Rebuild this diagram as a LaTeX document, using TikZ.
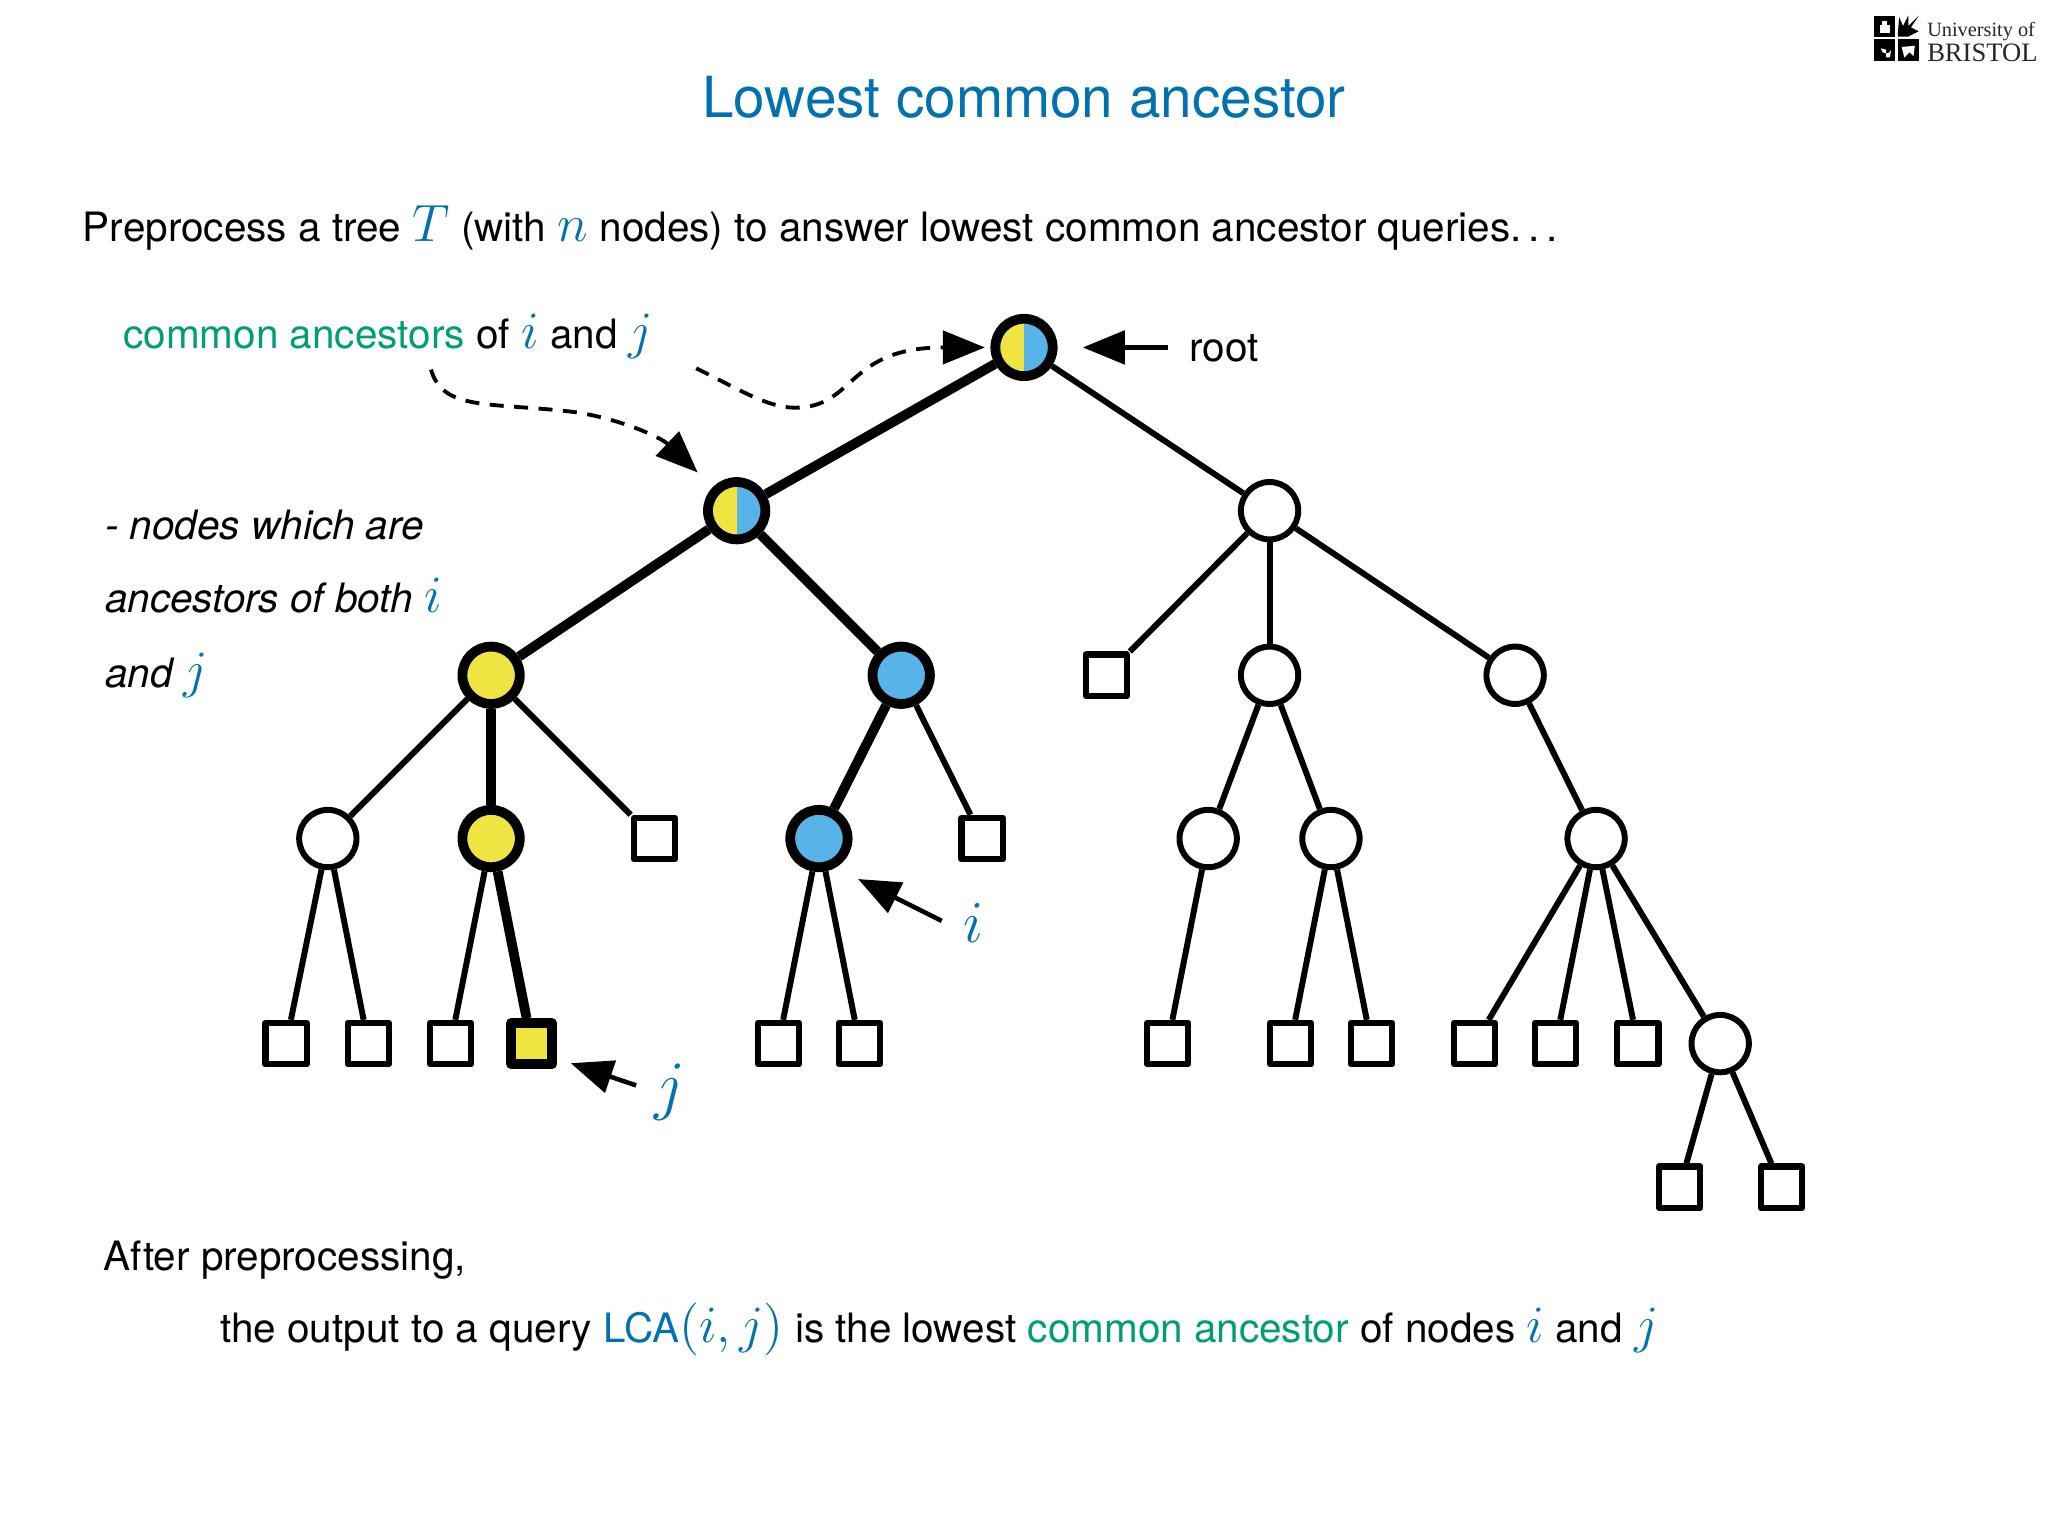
\RequirePackage{fix-cm}
\documentclass[tikz,border=0pt]{standalone}
\usepackage{fontspec}
\setmainfont{TeX Gyre Heros}
\newfontfamily\logofont{Liberation Serif}
\usetikzlibrary{arrows.meta}
\definecolor{oiblue}{RGB}{0,114,178}
\definecolor{oigreen}{RGB}{0,158,115}
\definecolor{oiyellow}{RGB}{240,228,66}
\definecolor{oisky}{RGB}{86,180,233}
\newcommand{\mth}[1]{{\fontsize{15}{15}\selectfont\color{oiblue}$#1$}}
\newcommand{\gtxt}[1]{{\color{oigreen}#1}}
\tikzset{
  x=0.013128cm,y=-0.013128cm,
  body/.style={anchor=base west,inner sep=0,font=\fontsize{11.57}{14}\selectfont},
  ital/.style={body,font=\fontsize{11.57}{14}\selectfont\itshape},
  circ/.style={circle,draw=black,line width=1.7pt,minimum size=16.4pt,inner sep=0,fill=white},
  hcirc/.style={circle,draw=black,line width=2.8pt,minimum size=16.4pt,inner sep=0},
  ycirc/.style={hcirc,fill=oiyellow},
  bcirc/.style={hcirc,fill=oisky},
  hbcirc/.style={hcirc,path picture={
    \fill[oiyellow] (path picture bounding box.north west) rectangle (path picture bounding box.south);
    \fill[oisky] (path picture bounding box.north) rectangle (path picture bounding box.south east);}},
  sq/.style={rectangle,draw=black,line width=1.8pt,minimum size=11.8pt,inner sep=0,fill=white,line join=round},
  ysq/.style={sq,line width=2.8pt,minimum size=11.7pt,fill=oiyellow},
  thin edge/.style={line width=1.7pt,black},
  thick edge/.style={line width=2.8pt,black},
  arr/.style={line width=1.3pt,black,-{Triangle[length=12pt,width=9.5pt]}},
  dash arr/.style={arr,line width=1.1pt,dash pattern=on 4pt off 3pt},
}
\begin{document}
\begin{tikzpicture}
\useasboundingbox (0,0) rectangle (1568,1176);
\fill[white] (0,0) rectangle (1568,1176);

% logo
\fill[black] (1435,12) rectangle (1451,28);
\fill[black] (1435,30) rectangle (1451,47);
\fill[black] (1453,30) rectangle (1469,47);
\fill[white] (1439,19) rectangle (1447,25);
\fill[white] (1441,16) rectangle (1445,19);
\fill[white] (1440,37) arc (180:20:4) -- (1447,44) -- (1444,44) -- (1444,38) -- cycle;
\fill[white] (1456,36) -- (1466,35) -- (1465,43) -- (1462,40) -- (1458,44) -- cycle;
\fill[black] (1453,26) -- (1454,13) -- (1457,20) -- (1461,12) -- (1461,20) -- (1469,12) -- (1463,21) -- (1469,24) -- (1461,28) -- (1453,28) -- cycle;
\node[anchor=base west,inner sep=0,font=\logofont\fontsize{5.8}{7}\selectfont,text=black!85] (logoa) at (1475,28) {University of};
\node[anchor=base west,inner sep=0,font=\logofont\fontsize{7.6}{9}\selectfont,text=black!85] (logob) at (1475,47) {BRISTOL};

% title and texts
\node[anchor=base,inner sep=0,font=\fontsize{16.2}{18}\selectfont,text=oiblue] (title) at (784,90) {Lowest common ancestor};
\node[body] (intro) at (63,185) {Preprocess a tree \mth{T} (with \mth{n} nodes) to answer lowest common ancestor queries.\,.\,.};
\node[body] (common) at (94,267) {\gtxt{common ancestors} of \mth{i} and \mth{j}};
\node[ital] (la) at (80,413) {- nodes which are};
\node[ital] (lb) at (80,469) {ancestors of both \mth{i}};
\node[ital] (lc) at (80,526) {and \mth{j}};
\node[body] (rootlbl) at (910,277) {root};
\node[body] (after) at (79,973) {After preprocessing,};
\node[body] (query) at (168,1028) {the output to a query {\color{oiblue}LCA}\mth{(i,j)} is the lowest \gtxt{common ancestor} of nodes \mth{i} and \mth{j}};
\node[inner sep=0,font=\fontsize{17}{18}\selectfont,text=oiblue] (ilbl) at (745,707) {$i$};
\node[inner sep=0,font=\fontsize{19}{21}\selectfont,text=oiblue] (jlbl) at (513,836) {$j$};

% tree nodes
\node[hbcirc] (root) at (784,266) {};
\node[hbcirc] (A) at (564,391) {};
\node[circ] (B) at (972,391) {};
\node[ycirc] (C) at (376,517) {};
\node[bcirc] (D) at (690,517) {};
\node[sq] (E) at (847,517) {};
\node[circ] (F) at (972,517) {};
\node[circ] (G) at (1160,517) {};
\node[circ] (H) at (251,642) {};
\node[ycirc] (I) at (376,642) {};
\node[sq] (J) at (501,642) {};
\node[bcirc] (K) at (627,642) {};
\node[sq] (L) at (752,642) {};
\node[circ] (M) at (925,642) {};
\node[circ] (N) at (1019,642) {};
\node[circ] (O) at (1222,642) {};
\node[sq] (s1) at (219,799) {};
\node[sq] (s2) at (282,799) {};
\node[sq] (s3) at (345,799) {};
\node[ysq] (s4) at (407,799) {};
\node[sq] (s5) at (596,799) {};
\node[sq] (s6) at (658,799) {};
\node[sq] (s7) at (894,799) {};
\node[sq] (s8) at (988,799) {};
\node[sq] (s9) at (1050,799) {};
\node[sq] (s10) at (1129,799) {};
\node[sq] (s11) at (1191,799) {};
\node[sq] (s12) at (1254,799) {};
\node[circ] (P) at (1317,799) {};
\node[sq] (s13) at (1286,909) {};
\node[sq] (s14) at (1364,909) {};

% thick edges
\foreach \a/\b in {root/A,A/C,A/D,C/I,D/K,I/s4}
  \draw[thick edge] (\a) -- (\b);
% thin edges
\foreach \a/\b in {root/B,B/E,B/F,B/G,C/H,C/J,D/L,F/M,F/N,G/O,H/s1,H/s2,I/s3,K/s5,K/s6,M/s7,N/s8,N/s9,O/s10,O/s11,O/s12,O/P,P/s13,P/s14}
  \draw[thin edge] (\a) -- (\b);

% arrows
\coordinate (c1) at (330,283);
\coordinate (c1a) at (436,315);
\coordinate (c2) at (533,282);
\coordinate (c2a) at (613,312);
\coordinate (rtail) at (894,266);
\coordinate (itail) at (721,705);
\coordinate (itip) at (657,673);
\coordinate (jtail) at (487,831);
\coordinate (jtip) at (437,814);
\draw[dash arr,shorten >=6pt] (c1) .. controls (339,314) and (372,308) .. (c1a) .. controls (470,319) and (505,334) .. (A.135);
\draw[dash arr,shorten >=1.6pt] (c2) .. controls (566,298) and (590,314) .. (c2a) .. controls (655,309) and (650,266) .. (root.west);
\draw[arr,shorten >=7.2pt] (rtail) -- (root.east);
\draw[arr] (itail) -- (itip);
\draw[arr] (jtail) -- (jtip);
\end{tikzpicture}
\end{document}
